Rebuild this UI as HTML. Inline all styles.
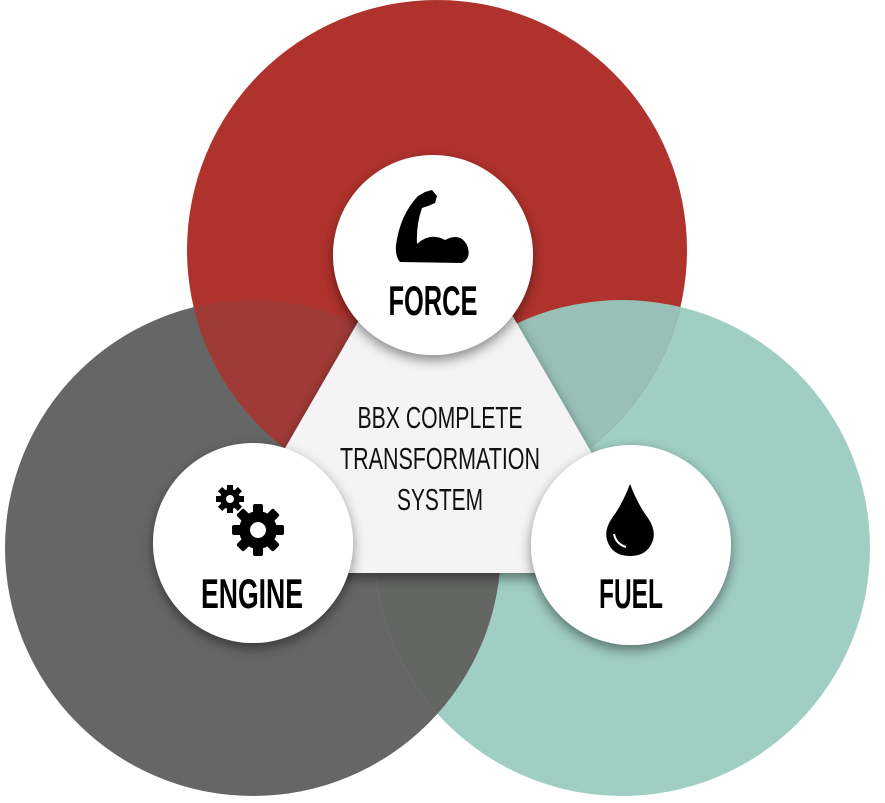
<!DOCTYPE html>
<html><head><meta charset="utf-8"><style>
html,body{margin:0;padding:0;background:#fff;}
svg{display:block;}
text{font-family:"Liberation Sans Narrow","Liberation Sans",sans-serif;}
</style></head><body>
<svg width="885" height="803" viewBox="0 0 885 803" xmlns="http://www.w3.org/2000/svg">
<defs>
<clipPath id="cR"><circle cx="437" cy="250" r="250"/></clipPath>
<clipPath id="cG"><circle cx="253" cy="548" r="248"/></clipPath>
<clipPath id="cT"><circle cx="622" cy="548" r="248"/></clipPath>
<filter id="sh" x="-30%" y="-30%" width="160%" height="160%"><feDropShadow dx="0" dy="5" stdDeviation="6" flood-color="#000" flood-opacity="0.45"/></filter>
</defs>
<circle cx="253" cy="548" r="248" fill="#666666"/>
<circle cx="622" cy="548" r="248" fill="#a0cec3"/>
<circle cx="437" cy="250" r="250" fill="#b0322c"/>
<g clip-path="url(#cR)"><circle cx="253" cy="548" r="248" fill="#a03a36"/></g>
<g clip-path="url(#cR)"><circle cx="622" cy="548" r="248" fill="#98c0b6"/></g>
<g clip-path="url(#cT)"><circle cx="253" cy="548" r="248" fill="#646664"/></g>
<polygon points="437,185 213,573 661,573" fill="#f4f4f4" filter="url(#sh)"/>
<circle cx="433" cy="255" r="100" fill="#fff" filter="url(#sh)"/>
<circle cx="253" cy="543" r="100" fill="#fff" filter="url(#sh)"/>
<circle cx="631" cy="545" r="100" fill="#fff" filter="url(#sh)"/>
<g font-size="31" fill="#111" text-anchor="middle">
<text x="440" y="428" textLength="165" lengthAdjust="spacingAndGlyphs">BBX COMPLETE</text>
<text x="440" y="469" textLength="200" lengthAdjust="spacingAndGlyphs">TRANSFORMATION</text>
<text x="440" y="510" textLength="86" lengthAdjust="spacingAndGlyphs">SYSTEM</text>
</g>
<g font-size="42" font-weight="bold" fill="#000" text-anchor="middle">
<text x="433" y="315" textLength="89" lengthAdjust="spacingAndGlyphs">FORCE</text>
<text x="252" y="608" textLength="102" lengthAdjust="spacingAndGlyphs">ENGINE</text>
<text x="631" y="608" textLength="64" lengthAdjust="spacingAndGlyphs">FUEL</text>
</g>
<!-- arm -->
<path d="M425,192 L432,190 L437,196 L435,203 L428,206 L422,208 Q416,225 417,244 Q430,232 445,240 Q460,232 467,245 Q472,258 462,263 L400,262 Q395,256 396,245 Q400,215 418,196 Z" fill="#000"/>
<!-- gears -->
<g fill="#000">
<circle cx="230" cy="499" r="10"/>
<g transform="translate(230,499)">
<rect x="-3" y="-14" width="6" height="28"/><rect x="-14" y="-3" width="28" height="6"/>
<rect x="-3" y="-14" width="6" height="28" transform="rotate(45)"/><rect x="-3" y="-14" width="6" height="28" transform="rotate(-45)"/>
</g>
<circle cx="258" cy="530" r="19"/>
<g transform="translate(258,530)">
<rect x="-5" y="-26" width="10" height="52" rx="2"/><rect x="-26" y="-5" width="52" height="10" rx="2"/>
<rect x="-5" y="-26" width="10" height="52" rx="2" transform="rotate(45)"/><rect x="-5" y="-26" width="10" height="52" rx="2" transform="rotate(-45)"/>
</g>
</g>
<circle cx="230" cy="499" r="4" fill="#fff"/>
<circle cx="258" cy="530" r="8" fill="#fff"/>
<!-- drop -->
<path d="M630,484 Q638,505 648,518 Q656,530 653,540 Q648,556 630,556 Q612,556 607,540 Q604,530 612,518 Q622,505 630,484 Z" fill="#000"/>
<path d="M614,534 Q616,544 626,547" stroke="#fff" stroke-width="2" fill="none"/>
</svg>
</body></html>
